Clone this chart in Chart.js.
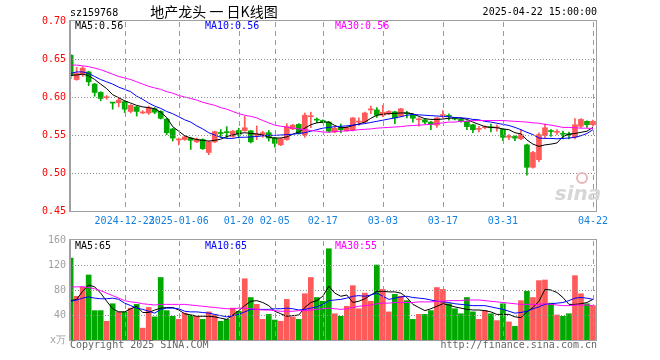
<!DOCTYPE html>
<html>
<head>
<meta charset="utf-8">
<script src="https://cdn.jsdelivr.net/npm/chart.js@4.4.1/dist/chart.umd.min.js"></script>
<style>
body { margin: 0; background: #fff; }
#wrap { position: relative; width: 660px; height: 360px; }
#kline { position: absolute; left: 0; top: 0; }
#vol { position: absolute; left: 0; top: 230px; }
</style>
</head>
<body>
<div id="wrap">
  <canvas id="kline" width="660" height="230"></canvas>
  <canvas id="vol" width="660" height="130"></canvas>
</div>
<script>
// infos du titre
const code = "sz159768";
const title = "地产龙头 一 日K线图";
const stamp = "2025-04-22 15:00:00";

// jours de bourse affiches
const dates = [
  "2024-12-10","2024-12-11","2024-12-12","2024-12-13","2024-12-16","2024-12-17","2024-12-18","2024-12-19","2024-12-20","2024-12-23",
  "2024-12-24","2024-12-25","2024-12-26","2024-12-27","2024-12-30","2024-12-31","2025-01-02","2025-01-03","2025-01-06","2025-01-07",
  "2025-01-08","2025-01-09","2025-01-10","2025-01-13","2025-01-14","2025-01-15","2025-01-16","2025-01-17","2025-01-20","2025-01-21",
  "2025-01-22","2025-01-23","2025-01-24","2025-01-27","2025-02-05","2025-02-06","2025-02-07","2025-02-10","2025-02-11","2025-02-12",
  "2025-02-13","2025-02-14","2025-02-17","2025-02-18","2025-02-19","2025-02-20","2025-02-21","2025-02-24","2025-02-25","2025-02-26",
  "2025-02-27","2025-02-28","2025-03-03","2025-03-04","2025-03-05","2025-03-06","2025-03-07","2025-03-10","2025-03-11","2025-03-12",
  "2025-03-13","2025-03-14","2025-03-17","2025-03-18","2025-03-19","2025-03-20","2025-03-21","2025-03-24","2025-03-25","2025-03-26",
  "2025-03-27","2025-03-28","2025-03-31","2025-04-01","2025-04-02","2025-04-03","2025-04-07","2025-04-08","2025-04-09","2025-04-10",
  "2025-04-11","2025-04-14","2025-04-15","2025-04-16","2025-04-17","2025-04-18","2025-04-21","2025-04-22"
];

// libelles de l'axe x
const xTickLabels = ["2024-12-23","2025-01-06","01-20","02-05","02-17","03-03","03-17","03-31","04-22"];

const openP = [
  0.655,0.623,0.630,0.633,0.617,0.606,0.599,0.593,0.5925,0.594,
  0.581,0.587,0.579,0.579,0.5845,0.581,0.571,0.558,0.5435,0.544,
  0.546,0.541,0.544,0.527,0.541,0.553,0.554,0.548,0.556,0.5555,
  0.5555,0.550,0.549,0.553,0.546,0.537,0.544,0.558,0.564,0.550,
  0.574,0.570,0.569,0.567,0.554,0.560,0.5555,0.557,0.567,0.567,
  0.583,0.583,0.576,0.578,0.5805,0.575,0.5785,0.577,0.570,0.570,
  0.567,0.563,0.5755,0.575,0.5725,0.571,0.568,0.5635,0.5575,0.5595,
  0.560,0.5595,0.5575,0.547,0.548,0.545,0.537,0.5075,0.5175,0.5495,
  0.555,0.5535,0.552,0.551,0.547,0.5615,0.568,0.5635
];
const highP = [
  0.656,0.639,0.640,0.634,0.618,0.607,0.602,0.593,0.599,0.595,
  0.590,0.588,0.582,0.588,0.586,0.582,0.572,0.559,0.546,0.549,
  0.547,0.546,0.545,0.542,0.555,0.557,0.561,0.556,0.559,0.5745,
  0.556,0.562,0.555,0.556,0.547,0.546,0.565,0.564,0.565,0.579,
  0.580,0.5725,0.570,0.568,0.560,0.5645,0.561,0.573,0.5725,0.580,
  0.588,0.586,0.589,0.582,0.581,0.585,0.581,0.578,0.5725,0.571,
  0.568,0.573,0.582,0.578,0.573,0.572,0.5685,0.564,0.5615,0.562,
  0.5645,0.5635,0.558,0.5505,0.549,0.557,0.538,0.5285,0.553,0.5645,
  0.557,0.557,0.555,0.554,0.5715,0.5715,0.5685,0.5695
];
const lowP = [
  0.624,0.622,0.627,0.615,0.601,0.595,0.597,0.584,0.587,0.5795,
  0.579,0.575,0.578,0.577,0.578,0.571,0.5505,0.542,0.537,0.543,
  0.531,0.540,0.531,0.524,0.540,0.547,0.546,0.547,0.546,0.555,
  0.5395,0.544,0.547,0.542,0.534,0.536,0.543,0.557,0.551,0.547,
  0.5595,0.566,0.566,0.554,0.553,0.553,0.555,0.5555,0.5625,0.566,
  0.578,0.573,0.574,0.577,0.565,0.574,0.5725,0.567,0.5615,0.5645,
  0.557,0.560,0.5725,0.5695,0.570,0.567,0.557,0.553,0.554,0.558,
  0.554,0.555,0.5425,0.544,0.5425,0.544,0.497,0.5065,0.515,0.546,
  0.548,0.5505,0.545,0.545,0.545,0.5595,0.560,0.5615
];
const closeP = [
  0.628,0.631,0.638,0.620,0.606,0.598,0.600,0.592,0.596,0.584,
  0.589,0.581,0.580,0.586,0.580,0.572,0.553,0.546,0.5445,0.5475,
  0.543,0.5445,0.532,0.541,0.5545,0.552,0.553,0.555,0.551,0.5595,
  0.541,0.551,0.553,0.546,0.539,0.545,0.561,0.563,0.552,0.576,
  0.575,0.5695,0.567,0.555,0.559,0.557,0.5595,0.5725,0.568,0.579,
  0.584,0.576,0.580,0.581,0.5725,0.5845,0.578,0.572,0.5705,0.567,
  0.564,0.5725,0.5765,0.5745,0.571,0.568,0.561,0.557,0.558,0.560,
  0.5595,0.560,0.547,0.5475,0.546,0.5505,0.5075,0.527,0.5505,0.5595,
  0.5545,0.554,0.551,0.5505,0.5635,0.5705,0.5635,0.568
];

// moyennes mobiles du prix
const ma5 = [
  0.6285,0.629,0.630,0.628,0.623,0.617,0.611,0.603,0.599,0.595,
  0.592,0.589,0.587,0.586,0.5845,0.580,0.573,0.561,0.555,0.549,
  0.546,0.544,0.543,0.542,0.543,0.5445,0.548,0.550,0.552,0.553,
  0.552,0.5515,0.550,0.547,0.546,0.546,0.5475,0.551,0.554,0.559,
  0.5635,0.566,0.567,0.567,0.5625,0.5595,0.560,0.5625,0.5645,0.567,
  0.572,0.576,0.5775,0.578,0.5785,0.579,0.579,0.578,0.5745,0.5715,
  0.5705,0.5705,0.571,0.572,0.5725,0.5725,0.5705,0.567,0.564,0.561,
  0.560,0.5595,0.558,0.557,0.553,0.5515,0.5435,0.538,0.535,0.537,
  0.538,0.5395,0.548,0.551,0.552,0.5535,0.555,0.560
];
const ma10 = [
  0.631,0.633,0.633,0.631,0.627,0.623,0.620,0.617,0.613,0.610,
  0.607,0.601,0.597,0.592,0.588,0.585,0.581,0.578,0.574,0.570,
  0.567,0.562,0.558,0.553,0.550,0.547,0.5455,0.5455,0.547,0.547,
  0.5475,0.548,0.549,0.5495,0.5495,0.550,0.5505,0.551,0.552,0.553,
  0.555,0.557,0.559,0.560,0.561,0.5615,0.562,0.563,0.564,0.565,
  0.5665,0.568,0.5695,0.571,0.5725,0.574,0.576,0.577,0.5765,0.576,
  0.5755,0.575,0.5745,0.574,0.573,0.5725,0.572,0.5705,0.570,0.568,
  0.567,0.5655,0.564,0.5625,0.560,0.557,0.5535,0.5505,0.546,0.5455,
  0.5455,0.545,0.5455,0.546,0.547,0.549,0.552,0.557
];
const ma30 = [
  0.642,0.642,0.641,0.640,0.638,0.636,0.633,0.630,0.627,0.625,
  0.623,0.620,0.617,0.614,0.612,0.610,0.607,0.605,0.602,0.600,
  0.598,0.596,0.593,0.591,0.589,0.586,0.584,0.581,0.578,0.576,
  0.5745,0.5725,0.569,0.566,0.563,0.5615,0.5605,0.559,0.558,0.557,
  0.556,0.555,0.554,0.5535,0.5545,0.555,0.5555,0.556,0.557,0.5575,
  0.558,0.559,0.5595,0.560,0.5605,0.561,0.562,0.5625,0.563,0.5635,
  0.564,0.565,0.566,0.567,0.567,0.568,0.568,0.569,0.569,0.569,
  0.569,0.569,0.569,0.5685,0.568,0.5675,0.567,0.566,0.5655,0.564,
  0.563,0.5615,0.560,0.560,0.5595,0.559,0.559,0.5585
];

// volumes en x万
const volume = [
  131,70,85,104,47,47,30,58,45,45,
  51,57,19,52,37,100,47,38,33,43,
  40,38,33,45,40,30,33,51,46,98,
  68,57,33,41,32,30,65,37,33,74,
  100,68,62,146,42,38,54,87,50,75,
  62,120,81,45,73,70,63,33,41,41,
  47,84,81,58,50,42,68,45,33,47,
  42,31,58,29,22,63,78,68,95,96,
  59,40,38,42,103,74,58,55
];
const vma5 = [
  63,65,78,88,85,75,62,50,45,45,
  50,54,44,44,48,51,52,52,48,42,
  40,38,38,38,37,35,33,40,47,55,
  62,63,60,55,46,42,38,39,40,52,
  60,63,70,86,75,70,72,60,62,66,
  72,78,78,77,77,75,68,57,52,47,
  50,54,58,56,53,51,49,48,48,47,
  45,41,41,41,37,36,45,52,62,81,
  80,76,68,57,57,58,60,65
];
const vma10 = [
  62,64,67,69,67,66,66,67,65,59,
  55,51,49,46,43,49,51,51,50,46,
  45,45,44,43,41,39,37,39,41,45,
  49,49,49,49,50,50,51,50,48,49,
  51,53,57,63,64,65,67,70,71,70,
  72,75,70,65,67,69,70,68,67,66,
  64,62,61,60,58,57,56,55,55,55,
  53,51,49,46,43,44,46,50,53,57,
  58,59,60,63,67,68,67,65
];
const vma30 = [
  85,85,85,84,82,79,75,71,67,63,
  61,60,58,57,56,57,57,57,57,57,
  56,55,54,53,52,51,50,50,51,51,
  50,49,48,48,47,46,46,46,47,47,
  48,49,50,51,50,49,50,52,54,55,
  56,58,59,59,60,60,60,60,61,61,
  61,62,62,63,63,63,64,64,64,63,
  62,61,60,59,58,57,57,57,57,58,
  57,56,55,55,56,56,56,55
];

const priceTicks = [0.45, 0.50, 0.55, 0.60, 0.65, 0.70];
const volTicks = [0, 40, 80, 120, 160];

// bornes de l'axe x (index des jours)
const X_MIN = -0.11;
const X_MAX = 87.67;

const mono = '"DejaVu Sans Mono", monospace';
const upColor = "#ff5a5a";
const downColor = "#00a800";

// position des dates de l'axe x
const tickIdx = xTickLabels.map(l => dates.findIndex(d => d.endsWith(l)));
const tickText = {};
tickIdx.forEach((v, k) => { tickText[v] = xTickLabels[k]; });

const candleColors = closeP.map((c, i) => (c >= openP[i] ? upColor : downColor));
const toXY = arr => arr.map((v, i) => ({ x: i, y: v }));

function xScale(showLabels) {
  return {
    type: "linear",
    min: X_MIN,
    max: X_MAX,
    offset: false,
    afterBuildTicks: s => { s.ticks = tickIdx.map(v => ({ value: v })); },
    afterFit: s => { s.height = showLabels ? 19 : 20; },
    ticks: {
      display: showLabels,
      autoSkip: false,
      maxRotation: 0,
      padding: 4,
      color: "#1480e0",
      font: { family: mono, size: 10 },
      callback: v => tickText[v] || ""
    },
    grid: { display: false, offset: false, drawTicks: false },
    border: { display: false }
  };
}

function yScale(ticks, min, max, color, fmt) {
  return {
    min: min,
    max: max,
    beginAtZero: false,
    afterBuildTicks: s => { s.ticks = ticks.map(v => ({ value: v })); },
    afterFit: s => { s.width = 70; },
    ticks: { padding: 4, color: color, font: { family: mono, size: 10 }, callback: fmt },
    grid: { display: false, drawTicks: false },
    border: { display: false }
  };
}

// grille : petits rectangles pleins, plus foncee pour rester visible
function drawGrid(chart, yValues) {
  const a = chart.chartArea;
  const ctx = chart.ctx;
  const left = Math.round(a.left);
  const right = Math.round(a.right);
  const top = Math.round(a.top);
  const bottom = Math.round(a.bottom);
  const yMin = yValues[0];
  const yMax = yValues[yValues.length - 1];
  ctx.save();
  ctx.globalAlpha = 1;
  ctx.fillStyle = "#8c8c8c";
  for (let k = 1; k < yValues.length - 1; k++) {
    const y = Math.round(a.top + (yMax - yValues[k]) / (yMax - yMin) * (a.bottom - a.top));
    for (let x = left + 2; x < right; x += 3) {
      ctx.fillRect(x, y, 1, 1);
    }
  }
  ctx.fillStyle = "#9a9a9a";
  for (let k = 0; k < tickIdx.length; k++) {
    const x = Math.round(a.left + (tickIdx[k] - X_MIN) / (X_MAX - X_MIN) * (a.right - a.left));
    for (let y = top + 1; y < bottom; y += 9) {
      ctx.fillRect(x, y, 1, Math.min(5, bottom - y));
    }
  }
  ctx.restore();
}

function drawFrame(chart) {
  const a = chart.chartArea;
  const ctx = chart.ctx;
  ctx.save();
  ctx.strokeStyle = "#a0a0a0";
  ctx.lineWidth = 1;
  ctx.strokeRect(Math.round(a.left) - 0.5, Math.round(a.top) - 0.5, Math.round(a.right - a.left), Math.round(a.bottom - a.top) + 1);
  ctx.beginPath();
  ctx.moveTo(Math.round(a.left) + 0.5, a.top);
  ctx.lineTo(Math.round(a.left) + 0.5, a.bottom);
  ctx.stroke();
  ctx.restore();
}

function legend(ctx, y, items) {
  ctx.font = "10px " + mono;
  ctx.textBaseline = "middle";
  ctx.textAlign = "left";
  items.forEach(it => {
    ctx.fillStyle = it.color;
    ctx.fillText(it.text, it.x, y);
  });
}

const klineText = {
  id: "klineText",
  afterDraw(chart) {
    drawGrid(chart, priceTicks);
    drawFrame(chart);
    const ctx = chart.ctx;
    ctx.save();
    ctx.textBaseline = "middle";
    ctx.fillStyle = "#000";
    ctx.font = "10px " + mono;
    ctx.textAlign = "left";
    ctx.fillText(code, 70, 13);
    ctx.textAlign = "right";
    ctx.fillText(stamp, 597, 12.5);
    ctx.textAlign = "center";
    ctx.font = '14px "Noto Sans CJK SC"';
    ctx.fillText(title, 214, 12);
    const n = closeP.length - 1;
    legend(ctx, 26.5, [
      { x: 75, color: "#000", text: "MA5:" + ma5[n].toFixed(2) },
      { x: 205, color: "#0000ff", text: "MA10:" + ma10[n].toFixed(2) },
      { x: 335, color: "#ff00ff", text: "MA30:" + ma30[n].toFixed(2) }
    ]);
    // logo sina en filigrane
    ctx.font = 'bold italic 20px "DejaVu Sans"';
    ctx.fillStyle = "#d6d6d6";
    ctx.textAlign = "center";
    ctx.fillText("sina", 578, 195);
    ctx.beginPath();
    ctx.arc(582, 178, 5, 0, Math.PI * 2);
    ctx.strokeStyle = "#e8b8b8";
    ctx.lineWidth = 2;
    ctx.stroke();
    ctx.restore();
  }
};

const volText = {
  id: "volText",
  afterDraw(chart) {
    drawGrid(chart, volTicks);
    drawFrame(chart);
    const ctx = chart.ctx;
    ctx.save();
    const n = volume.length - 1;
    legend(ctx, 16.5, [
      { x: 75, color: "#000", text: "MA5:" + Math.round(vma5[n]) },
      { x: 205, color: "#0000ff", text: "MA10:" + Math.round(vma10[n]) },
      { x: 335, color: "#ff00ff", text: "MA30:" + Math.round(vma30[n]) }
    ]);
    ctx.fillStyle = "#666";
    ctx.textAlign = "left";
    ctx.fillText("Copyright 2025 SINA.COM", 70, 115);
    ctx.textAlign = "right";
    ctx.fillText("http://finance.sina.com.cn", 597, 115);
    ctx.restore();
  }
};

function maLine(arr, color) {
  return {
    type: "line",
    data: toXY(arr),
    borderColor: color,
    borderWidth: 1,
    pointRadius: 0,
    tension: 0,
    order: 0
  };
}

window.addEventListener("load", () => {
  // graphique K
  new Chart(document.getElementById("kline"), {
    type: "bar",
    data: {
      datasets: [
        {
          data: lowP.map((l, i) => ({ x: i, y: [l, highP[i]] })),
          backgroundColor: candleColors,
          barThickness: 1,
          grouped: false,
          order: 2
        },
        {
          data: openP.map((o, i) => ({ x: i, y: [o, closeP[i]] })),
          backgroundColor: candleColors,
          barThickness: 5,
          minBarLength: 1,
          grouped: false,
          order: 1
        },
        maLine(ma30, "#ff00ff"),
        maLine(ma10, "#0000ff"),
        maLine(ma5, "#000000")
      ]
    },
    options: {
      responsive: false,
      animation: false,
      devicePixelRatio: 1,
      layout: { padding: { top: 21, right: 63, left: 0, bottom: 0 } },
      plugins: { legend: { display: false }, tooltip: { enabled: false } },
      scales: {
        x: xScale(true),
        y: yScale(priceTicks, 0.45, 0.70, "#ff0000", v => v.toFixed(2))
      }
    },
    plugins: [klineText]
  });

  // graphique volume
  new Chart(document.getElementById("vol"), {
    type: "bar",
    data: {
      datasets: [
        {
          data: toXY(volume),
          backgroundColor: candleColors,
          barThickness: 5,
          grouped: false,
          order: 1
        },
        maLine(vma30, "#ff00ff"),
        maLine(vma10, "#0000ff"),
        maLine(vma5, "#000000")
      ]
    },
    options: {
      responsive: false,
      animation: false,
      devicePixelRatio: 1,
      layout: { padding: { top: 10, right: 63, left: 0, bottom: 0 } },
      plugins: { legend: { display: false }, tooltip: { enabled: false } },
      scales: {
        x: xScale(false),
        y: yScale(volTicks, 0, 160, "#a0a0a0", v => (v === 0 ? "x万" : String(v)))
      }
    },
    plugins: [volText]
  });
});
</script>
</body>
</html>
